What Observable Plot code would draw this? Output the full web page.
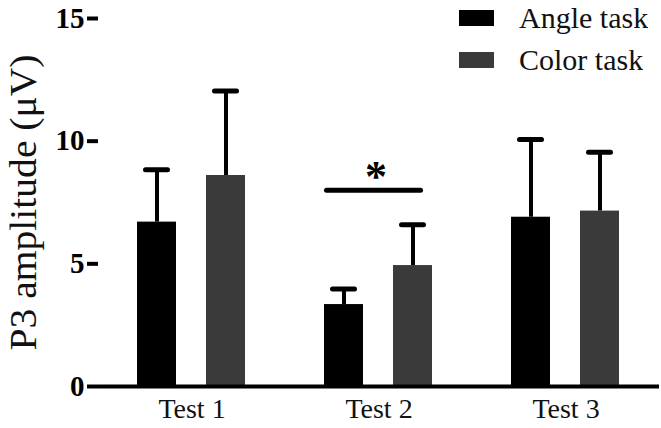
<!DOCTYPE html>
<html>
<head>
<meta charset="utf-8">
<script src="https://cdn.jsdelivr.net/npm/d3@7"></script>
<script src="https://cdn.jsdelivr.net/npm/@observablehq/plot@0.6"></script>
<style>
  html, body { margin: 0; padding: 0; background: #fff; }
  #wrap { position: relative; width: 661px; height: 428px; overflow: hidden; font-family: "Liberation Serif", "Times New Roman", serif; }
  #wrap svg.chart { position: absolute; left: 0; top: 0; }
  #legend { position: absolute; left: 459px; top: -3px; }
  #legend .lg-swatches { margin: 0 !important; font-family: "Liberation Serif", serif; font-size: 30px; color: #111; }
  #legend .lg-swatch { height: 42px; margin: 0 !important; padding: 0 !important; display: flex; align-items: center; }
  #legend .lg-swatch > svg { margin-right: 25px !important; }
</style>
</head>
<body>
<div id="wrap"></div>
<script>
const tests = ["Test 1", "Test 2", "Test 3"];
const tasks = ["Angle task", "Color task"];
const taskColors = ["#000000", "#3a3a3a"];
const angleMean = [6.70, 3.34, 6.90];
const angleSD = [2.13, 0.63, 3.17];
const colorMean = [8.60, 4.93, 7.15];
const colorSD = [3.44, 1.66, 2.40];
const yTicks = [0, 5, 10, 15];
const yLabel = "P3 amplitude (\u03bcV)";
const sigTest = ["Test 2"];
const sigLineY = [8.0];
const sigStarY = [8.55];

const rows = tests.flatMap((t, i) => [
  {test: t, task: tasks[0], mean: angleMean[i], sd: angleSD[i]},
  {test: t, task: tasks[1], mean: colorMean[i], sd: colorSD[i]}
]);
const sig = sigTest.map((t, i) => ({test: t, lineY: sigLineY[i], starY: sigStarY[i]}));

const serif = "'Liberation Serif', 'Times New Roman', serif";

const chart = Plot.plot({
  width: 661,
  height: 428,
  marginLeft: 97,
  marginRight: 1,
  marginTop: 18,
  marginBottom: 42,
  style: {fontFamily: serif, background: "white", color: "#000"},
  fx: {domain: tests, padding: 0, label: null},
  x: {domain: tasks, paddingInner: 0.43, paddingOuter: 0.557, axis: null},
  y: {domain: [0, 15], label: null},
  color: {domain: tasks, range: taskColors},
  marks: [
    Plot.barY(rows, {fx: "test", x: "task", y: "mean", fill: "task"}),
    Plot.ruleX(rows, {fx: "test", x: "task", y1: "mean", y2: d => d.mean + d.sd, stroke: "#000", strokeWidth: 4}),
    Plot.tickY(rows, {fx: "test", x: "task", y: d => d.mean + d.sd, stroke: "#000", strokeWidth: 5, strokeLinecap: "round", insetLeft: 8.5, insetRight: 8.5}),
    Plot.ruleY([0], {stroke: "#000", strokeWidth: 4}),
    Plot.ruleY(sig, {fx: "test", y: "lineY", x1: () => tasks[0], x2: () => tasks[1], stroke: "#000", strokeWidth: 5, strokeLinecap: "round", insetLeft: 2.5, insetRight: 11.5}),
    Plot.text(sig, {fx: "test", y: "starY", text: () => "*", fontSize: 44, fontWeight: "bold", fill: "#000", dx: -3}),
    Plot.axisY({ticks: yTicks, tickSize: 11, tickPadding: 3, fontSize: 29, fontWeight: "bold", strokeWidth: 4, line: true, label: null, tickFormat: d => String(d), fill: "#000"}),
    Plot.axisFx({anchor: "bottom", tickSize: 0, tickPadding: 12, fontSize: 28, label: null, fill: "#111"}),
    Plot.text([{test: tests[0], label: yLabel}], {fx: "test", text: "label", frameAnchor: "left", rotate: -90, dx: -74.5, fontSize: 38, fill: "#111"})
  ]
});
chart.classList.add("chart");

// fit the rotated y label to the reference's length
d3.select(chart).selectAll("text").filter(function() { return this.textContent === yLabel; })
  .attr("text-anchor", "start")
  .attr("x", -148)
  .attr("textLength", 296)
  .attr("lengthAdjust", "spacingAndGlyphs");

const wrap = document.getElementById("wrap");
wrap.appendChild(chart);

const legendDiv = document.createElement("div");
legendDiv.id = "legend";
legendDiv.appendChild(Plot.legend({
  color: {domain: tasks, range: taskColors},
  legend: "swatches",
  columns: 1,
  swatchWidth: 35,
  swatchHeight: 16,
  className: "lg"
}));
wrap.appendChild(legendDiv);
</script>
</body>
</html>
